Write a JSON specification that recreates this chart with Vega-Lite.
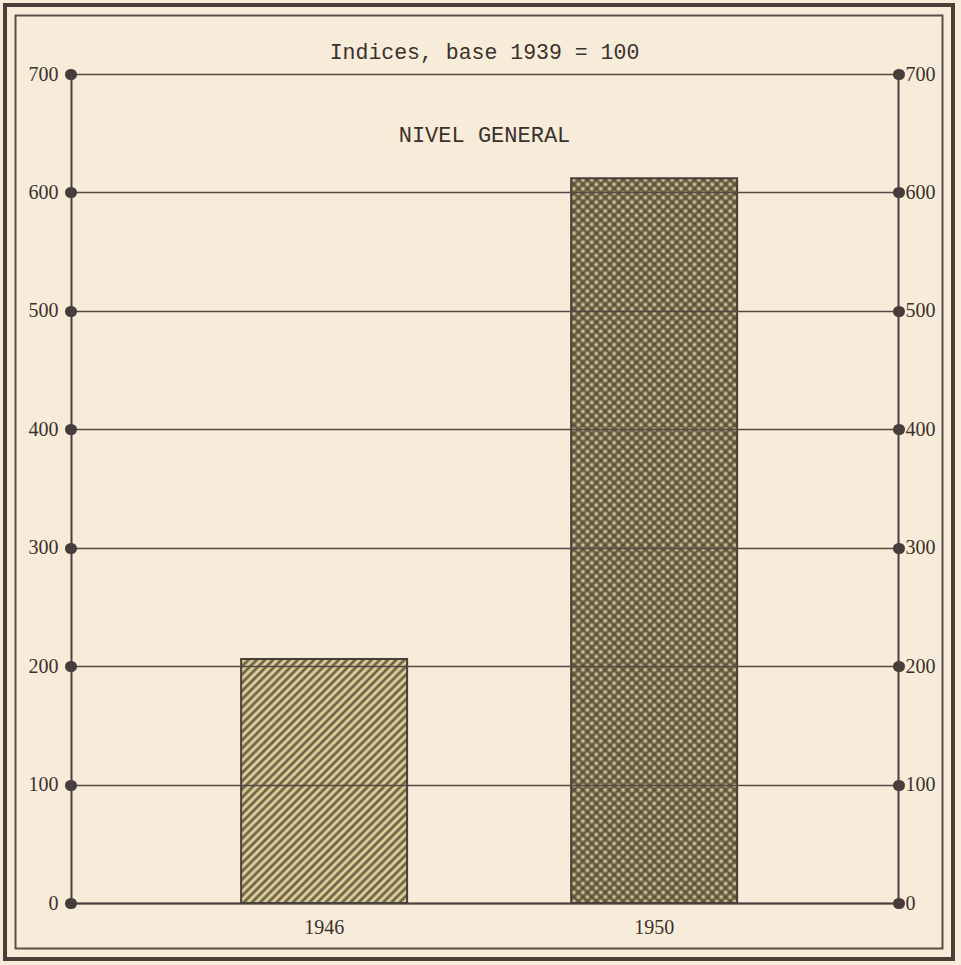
{
"$schema": "https://vega.github.io/schema/vega-lite/v6.json",
"width": 944,
"height": 950,
"autosize": {"type": "none"},
"padding": {"left": 7, "top": 7, "right": 10, "bottom": 8},
"background": "#f7ebd9",
"config": {"view": {"stroke": "#4a3f38", "strokeWidth": 8, "fill": null}},
"title": {"text": "Indices, base 1939 = 100", "subtitle": "NIVEL GENERAL", "orient": "top", "anchor": "middle", "frame": "group", "offset": -139, "dx": 5.5, "font": "Liberation Mono", "fontSize": 21.5, "fontWeight": "normal", "color": "#3a312c", "subtitleFont": "Liberation Mono", "subtitleFontSize": 22, "subtitleColor": "#3a312c", "subtitlePadding": 62},
"data": {"values": [{"year": "1946", "index": 206}, {"year": "1950", "index": 612}]},
"resolve": {"scale": {"y": "shared"}, "axis": {"y": "independent"}},
"layer": [
{"transform": [{"filter": {"field": "year", "equal": "1946"}}],
 "mark": {"type": "rect", "clip": true, "fill": "transparent", "stroke": "#5a4e48", "strokeWidth": 19},
 "encoding": {}},
{"transform": [{"filter": {"field": "year", "equal": "1946"}}],
 "mark": {"type": "rect", "clip": true, "fill": "transparent", "stroke": "#f7ebd9", "strokeWidth": 15},
 "encoding": {}},
{"transform": [{"filter": {"field": "year", "equal": "1946"}}],
 "mark": {"type": "bar", "stroke": "#4a3f38", "strokeWidth": 2, "fill": {"gradient": "linear", "x1": 0, "y1": 0, "x2": 0.781, "y2": 1.149, "stops": [
{"offset":0,"color":"#5c503e"},{"offset":0.01,"color":"#f2e5a3"},{"offset":0.02,"color":"#5c503e"},{"offset":0.03,"color":"#f2e5a3"},{"offset":0.04,"color":"#5c503e"},{"offset":0.05,"color":"#f2e5a3"},{"offset":0.06,"color":"#5c503e"},{"offset":0.07,"color":"#f2e5a3"},{"offset":0.08,"color":"#5c503e"},{"offset":0.09,"color":"#f2e5a3"},
{"offset":0.1,"color":"#5c503e"},{"offset":0.11,"color":"#f2e5a3"},{"offset":0.12,"color":"#5c503e"},{"offset":0.13,"color":"#f2e5a3"},{"offset":0.14,"color":"#5c503e"},{"offset":0.15,"color":"#f2e5a3"},{"offset":0.16,"color":"#5c503e"},{"offset":0.17,"color":"#f2e5a3"},{"offset":0.18,"color":"#5c503e"},{"offset":0.19,"color":"#f2e5a3"},
{"offset":0.2,"color":"#5c503e"},{"offset":0.21,"color":"#f2e5a3"},{"offset":0.22,"color":"#5c503e"},{"offset":0.23,"color":"#f2e5a3"},{"offset":0.24,"color":"#5c503e"},{"offset":0.25,"color":"#f2e5a3"},{"offset":0.26,"color":"#5c503e"},{"offset":0.27,"color":"#f2e5a3"},{"offset":0.28,"color":"#5c503e"},{"offset":0.29,"color":"#f2e5a3"},
{"offset":0.3,"color":"#5c503e"},{"offset":0.31,"color":"#f2e5a3"},{"offset":0.32,"color":"#5c503e"},{"offset":0.33,"color":"#f2e5a3"},{"offset":0.34,"color":"#5c503e"},{"offset":0.35,"color":"#f2e5a3"},{"offset":0.36,"color":"#5c503e"},{"offset":0.37,"color":"#f2e5a3"},{"offset":0.38,"color":"#5c503e"},{"offset":0.39,"color":"#f2e5a3"},
{"offset":0.4,"color":"#5c503e"},{"offset":0.41,"color":"#f2e5a3"},{"offset":0.42,"color":"#5c503e"},{"offset":0.43,"color":"#f2e5a3"},{"offset":0.44,"color":"#5c503e"},{"offset":0.45,"color":"#f2e5a3"},{"offset":0.46,"color":"#5c503e"},{"offset":0.47,"color":"#f2e5a3"},{"offset":0.48,"color":"#5c503e"},{"offset":0.49,"color":"#f2e5a3"},
{"offset":0.5,"color":"#5c503e"},{"offset":0.51,"color":"#f2e5a3"},{"offset":0.52,"color":"#5c503e"},{"offset":0.53,"color":"#f2e5a3"},{"offset":0.54,"color":"#5c503e"},{"offset":0.55,"color":"#f2e5a3"},{"offset":0.56,"color":"#5c503e"},{"offset":0.57,"color":"#f2e5a3"},{"offset":0.58,"color":"#5c503e"},{"offset":0.59,"color":"#f2e5a3"},
{"offset":0.6,"color":"#5c503e"},{"offset":0.61,"color":"#f2e5a3"},{"offset":0.62,"color":"#5c503e"},{"offset":0.63,"color":"#f2e5a3"},{"offset":0.64,"color":"#5c503e"},{"offset":0.65,"color":"#f2e5a3"},{"offset":0.66,"color":"#5c503e"},{"offset":0.67,"color":"#f2e5a3"},{"offset":0.68,"color":"#5c503e"},{"offset":0.69,"color":"#f2e5a3"},
{"offset":0.7,"color":"#5c503e"},{"offset":0.71,"color":"#f2e5a3"},{"offset":0.72,"color":"#5c503e"},{"offset":0.73,"color":"#f2e5a3"},{"offset":0.74,"color":"#5c503e"},{"offset":0.75,"color":"#f2e5a3"},{"offset":0.76,"color":"#5c503e"},{"offset":0.77,"color":"#f2e5a3"},{"offset":0.78,"color":"#5c503e"},{"offset":0.79,"color":"#f2e5a3"},
{"offset":0.8,"color":"#5c503e"},{"offset":0.81,"color":"#f2e5a3"},{"offset":0.82,"color":"#5c503e"},{"offset":0.83,"color":"#f2e5a3"},{"offset":0.84,"color":"#5c503e"},{"offset":0.85,"color":"#f2e5a3"},{"offset":0.86,"color":"#5c503e"},{"offset":0.87,"color":"#f2e5a3"},{"offset":0.88,"color":"#5c503e"},{"offset":0.89,"color":"#f2e5a3"},
{"offset":0.9,"color":"#5c503e"},{"offset":0.91,"color":"#f2e5a3"},{"offset":0.92,"color":"#5c503e"},{"offset":0.93,"color":"#f2e5a3"},{"offset":0.94,"color":"#5c503e"},{"offset":0.95,"color":"#f2e5a3"},{"offset":0.96,"color":"#5c503e"},{"offset":0.97,"color":"#f2e5a3"},{"offset":0.98,"color":"#5c503e"},{"offset":0.99,"color":"#f2e5a3"},
{"offset":1,"color":"#5c503e"}]}},
 "encoding": {
  "x": {"field": "year", "type": "nominal", "scale": {"domain": ["1946", "1950"], "range": [64, 891], "paddingInner": 0.497, "paddingOuter": 0.5015, "align": 0.514},
        "axis": {"orient": "bottom", "offset": -54, "title": null, "labelAngle": 0, "ticks": false, "tickSize": 0, "domain": true, "domainColor": "#4a4040", "domainWidth": 2, "labelFont": "Liberation Serif", "labelFontSize": 20, "labelColor": "#3a312c", "labelPadding": 14, "zindex": 1}},
  "y": {"field": "index", "type": "quantitative", "scale": {"domain": [0, 700], "range": [896, 67], "nice": false, "zero": true},
        "axis": {"orient": "left", "offset": -64, "title": null, "values": [0, 100, 200, 300, 400, 500, 600, 700], "grid": true, "gridColor": "#544a44", "gridWidth": 1.7, "gridOpacity": 1, "domain": true, "domainColor": "#4a4040", "domainWidth": 2, "ticks": true, "tickColor": "#463c3a", "tickWidth": 11, "tickSize": 1, "tickCap": "round", "labelFont": "Liberation Serif", "labelFontSize": 20, "labelColor": "#3a312c", "labelPadding": 12, "zindex": 1}}
 }},
{"transform": [{"filter": {"field": "year", "equal": "1950"}}],
 "mark": {"type": "bar", "fill": "#f1e6aa", "strokeWidth": 0},
 "encoding": {
  "x": {"field": "year", "type": "nominal", "scale": {"domain": ["1946", "1950"], "range": [64, 891], "paddingInner": 0.497, "paddingOuter": 0.5015, "align": 0.514},
        "axis": {"orient": "bottom", "offset": -54, "title": null, "labelAngle": 0, "ticks": false, "tickSize": 0, "domain": true, "domainColor": "#4a4040", "domainWidth": 2, "labelFont": "Liberation Serif", "labelFontSize": 20, "labelColor": "#3a312c", "labelPadding": 14, "zindex": 1}},
  "y": {"field": "index", "type": "quantitative", "scale": {"domain": [0, 700], "range": [896, 67], "nice": false, "zero": true},
        "axis": {"orient": "right", "offset": -53, "title": null, "values": [0, 100, 200, 300, 400, 500, 600, 700], "grid": false, "domain": true, "domainColor": "#4a4040", "domainWidth": 2, "ticks": true, "tickColor": "#463c3a", "tickWidth": 11, "tickSize": 1, "tickCap": "round", "labelFont": "Liberation Serif", "labelFontSize": 20, "labelColor": "#3a312c", "labelPadding": 6, "zindex": 1}}
 }},
{"transform": [{"filter": {"field": "year", "equal": "1950"}}],
 "mark": {"type": "bar", "strokeWidth": 0, "fill": {"gradient": "linear", "x1": 0, "y1": 1, "x2": 0.267, "y2": -0.168, "stops": [
{"offset":0,"color":"#544836e6"},{"offset":0.005,"color":"#54483600"},{"offset":0.01,"color":"#544836e6"},{"offset":0.015,"color":"#54483600"},{"offset":0.02,"color":"#544836e6"},{"offset":0.025,"color":"#54483600"},{"offset":0.03,"color":"#544836e6"},{"offset":0.035,"color":"#54483600"},{"offset":0.04,"color":"#544836e6"},{"offset":0.045,"color":"#54483600"},{"offset":0.05,"color":"#544836e6"},{"offset":0.055,"color":"#54483600"},{"offset":0.06,"color":"#544836e6"},{"offset":0.065,"color":"#54483600"},{"offset":0.07,"color":"#544836e6"},{"offset":0.075,"color":"#54483600"},{"offset":0.08,"color":"#544836e6"},{"offset":0.085,"color":"#54483600"},{"offset":0.09,"color":"#544836e6"},{"offset":0.095,"color":"#54483600"},
{"offset":0.1,"color":"#544836e6"},{"offset":0.105,"color":"#54483600"},{"offset":0.11,"color":"#544836e6"},{"offset":0.115,"color":"#54483600"},{"offset":0.12,"color":"#544836e6"},{"offset":0.125,"color":"#54483600"},{"offset":0.13,"color":"#544836e6"},{"offset":0.135,"color":"#54483600"},{"offset":0.14,"color":"#544836e6"},{"offset":0.145,"color":"#54483600"},{"offset":0.15,"color":"#544836e6"},{"offset":0.155,"color":"#54483600"},{"offset":0.16,"color":"#544836e6"},{"offset":0.165,"color":"#54483600"},{"offset":0.17,"color":"#544836e6"},{"offset":0.175,"color":"#54483600"},{"offset":0.18,"color":"#544836e6"},{"offset":0.185,"color":"#54483600"},{"offset":0.19,"color":"#544836e6"},{"offset":0.195,"color":"#54483600"},
{"offset":0.2,"color":"#544836e6"},{"offset":0.205,"color":"#54483600"},{"offset":0.21,"color":"#544836e6"},{"offset":0.215,"color":"#54483600"},{"offset":0.22,"color":"#544836e6"},{"offset":0.225,"color":"#54483600"},{"offset":0.23,"color":"#544836e6"},{"offset":0.235,"color":"#54483600"},{"offset":0.24,"color":"#544836e6"},{"offset":0.245,"color":"#54483600"},{"offset":0.25,"color":"#544836e6"},{"offset":0.255,"color":"#54483600"},{"offset":0.26,"color":"#544836e6"},{"offset":0.265,"color":"#54483600"},{"offset":0.27,"color":"#544836e6"},{"offset":0.275,"color":"#54483600"},{"offset":0.28,"color":"#544836e6"},{"offset":0.285,"color":"#54483600"},{"offset":0.29,"color":"#544836e6"},{"offset":0.295,"color":"#54483600"},
{"offset":0.3,"color":"#544836e6"},{"offset":0.305,"color":"#54483600"},{"offset":0.31,"color":"#544836e6"},{"offset":0.315,"color":"#54483600"},{"offset":0.32,"color":"#544836e6"},{"offset":0.325,"color":"#54483600"},{"offset":0.33,"color":"#544836e6"},{"offset":0.335,"color":"#54483600"},{"offset":0.34,"color":"#544836e6"},{"offset":0.345,"color":"#54483600"},{"offset":0.35,"color":"#544836e6"},{"offset":0.355,"color":"#54483600"},{"offset":0.36,"color":"#544836e6"},{"offset":0.365,"color":"#54483600"},{"offset":0.37,"color":"#544836e6"},{"offset":0.375,"color":"#54483600"},{"offset":0.38,"color":"#544836e6"},{"offset":0.385,"color":"#54483600"},{"offset":0.39,"color":"#544836e6"},{"offset":0.395,"color":"#54483600"},
{"offset":0.4,"color":"#544836e6"},{"offset":0.405,"color":"#54483600"},{"offset":0.41,"color":"#544836e6"},{"offset":0.415,"color":"#54483600"},{"offset":0.42,"color":"#544836e6"},{"offset":0.425,"color":"#54483600"},{"offset":0.43,"color":"#544836e6"},{"offset":0.435,"color":"#54483600"},{"offset":0.44,"color":"#544836e6"},{"offset":0.445,"color":"#54483600"},{"offset":0.45,"color":"#544836e6"},{"offset":0.455,"color":"#54483600"},{"offset":0.46,"color":"#544836e6"},{"offset":0.465,"color":"#54483600"},{"offset":0.47,"color":"#544836e6"},{"offset":0.475,"color":"#54483600"},{"offset":0.48,"color":"#544836e6"},{"offset":0.485,"color":"#54483600"},{"offset":0.49,"color":"#544836e6"},{"offset":0.495,"color":"#54483600"},
{"offset":0.5,"color":"#544836e6"},{"offset":0.505,"color":"#54483600"},{"offset":0.51,"color":"#544836e6"},{"offset":0.515,"color":"#54483600"},{"offset":0.52,"color":"#544836e6"},{"offset":0.525,"color":"#54483600"},{"offset":0.53,"color":"#544836e6"},{"offset":0.535,"color":"#54483600"},{"offset":0.54,"color":"#544836e6"},{"offset":0.545,"color":"#54483600"},{"offset":0.55,"color":"#544836e6"},{"offset":0.555,"color":"#54483600"},{"offset":0.56,"color":"#544836e6"},{"offset":0.565,"color":"#54483600"},{"offset":0.57,"color":"#544836e6"},{"offset":0.575,"color":"#54483600"},{"offset":0.58,"color":"#544836e6"},{"offset":0.585,"color":"#54483600"},{"offset":0.59,"color":"#544836e6"},{"offset":0.595,"color":"#54483600"},
{"offset":0.6,"color":"#544836e6"},{"offset":0.605,"color":"#54483600"},{"offset":0.61,"color":"#544836e6"},{"offset":0.615,"color":"#54483600"},{"offset":0.62,"color":"#544836e6"},{"offset":0.625,"color":"#54483600"},{"offset":0.63,"color":"#544836e6"},{"offset":0.635,"color":"#54483600"},{"offset":0.64,"color":"#544836e6"},{"offset":0.645,"color":"#54483600"},{"offset":0.65,"color":"#544836e6"},{"offset":0.655,"color":"#54483600"},{"offset":0.66,"color":"#544836e6"},{"offset":0.665,"color":"#54483600"},{"offset":0.67,"color":"#544836e6"},{"offset":0.675,"color":"#54483600"},{"offset":0.68,"color":"#544836e6"},{"offset":0.685,"color":"#54483600"},{"offset":0.69,"color":"#544836e6"},{"offset":0.695,"color":"#54483600"},
{"offset":0.7,"color":"#544836e6"},{"offset":0.705,"color":"#54483600"},{"offset":0.71,"color":"#544836e6"},{"offset":0.715,"color":"#54483600"},{"offset":0.72,"color":"#544836e6"},{"offset":0.725,"color":"#54483600"},{"offset":0.73,"color":"#544836e6"},{"offset":0.735,"color":"#54483600"},{"offset":0.74,"color":"#544836e6"},{"offset":0.745,"color":"#54483600"},{"offset":0.75,"color":"#544836e6"},{"offset":0.755,"color":"#54483600"},{"offset":0.76,"color":"#544836e6"},{"offset":0.765,"color":"#54483600"},{"offset":0.77,"color":"#544836e6"},{"offset":0.775,"color":"#54483600"},{"offset":0.78,"color":"#544836e6"},{"offset":0.785,"color":"#54483600"},{"offset":0.79,"color":"#544836e6"},{"offset":0.795,"color":"#54483600"},
{"offset":0.8,"color":"#544836e6"},{"offset":0.805,"color":"#54483600"},{"offset":0.81,"color":"#544836e6"},{"offset":0.815,"color":"#54483600"},{"offset":0.82,"color":"#544836e6"},{"offset":0.825,"color":"#54483600"},{"offset":0.83,"color":"#544836e6"},{"offset":0.835,"color":"#54483600"},{"offset":0.84,"color":"#544836e6"},{"offset":0.845,"color":"#54483600"},{"offset":0.85,"color":"#544836e6"},{"offset":0.855,"color":"#54483600"},{"offset":0.86,"color":"#544836e6"},{"offset":0.865,"color":"#54483600"},{"offset":0.87,"color":"#544836e6"},{"offset":0.875,"color":"#54483600"},{"offset":0.88,"color":"#544836e6"},{"offset":0.885,"color":"#54483600"},{"offset":0.89,"color":"#544836e6"},{"offset":0.895,"color":"#54483600"},
{"offset":0.9,"color":"#544836e6"},{"offset":0.905,"color":"#54483600"},{"offset":0.91,"color":"#544836e6"},{"offset":0.915,"color":"#54483600"},{"offset":0.92,"color":"#544836e6"},{"offset":0.925,"color":"#54483600"},{"offset":0.93,"color":"#544836e6"},{"offset":0.935,"color":"#54483600"},{"offset":0.94,"color":"#544836e6"},{"offset":0.945,"color":"#54483600"},{"offset":0.95,"color":"#544836e6"},{"offset":0.955,"color":"#54483600"},{"offset":0.96,"color":"#544836e6"},{"offset":0.965,"color":"#54483600"},{"offset":0.97,"color":"#544836e6"},{"offset":0.975,"color":"#54483600"},{"offset":0.98,"color":"#544836e6"},{"offset":0.985,"color":"#54483600"},{"offset":0.99,"color":"#544836e6"},{"offset":0.995,"color":"#54483600"},
{"offset":1,"color":"#544836e6"}]}},
 "encoding": {
  "x": {"field": "year", "type": "nominal", "scale": {"domain": ["1946", "1950"], "range": [64, 891], "paddingInner": 0.497, "paddingOuter": 0.5015, "align": 0.514},
        "axis": {"orient": "bottom", "offset": -54, "title": null, "labelAngle": 0, "ticks": false, "tickSize": 0, "domain": true, "domainColor": "#4a4040", "domainWidth": 2, "labelFont": "Liberation Serif", "labelFontSize": 20, "labelColor": "#3a312c", "labelPadding": 14, "zindex": 1}},
  "y": {"field": "index", "type": "quantitative", "scale": {"domain": [0, 700], "range": [896, 67], "nice": false, "zero": true}, "axis": null}
 }},
{"transform": [{"filter": {"field": "year", "equal": "1950"}}],
 "mark": {"type": "bar", "stroke": "#4a3f38", "strokeWidth": 2, "fill": {"gradient": "linear", "x1": 0, "y1": 0, "x2": 0.267, "y2": 1.168, "stops": [
{"offset":0,"color":"#544836e6"},{"offset":0.005,"color":"#54483600"},{"offset":0.01,"color":"#544836e6"},{"offset":0.015,"color":"#54483600"},{"offset":0.02,"color":"#544836e6"},{"offset":0.025,"color":"#54483600"},{"offset":0.03,"color":"#544836e6"},{"offset":0.035,"color":"#54483600"},{"offset":0.04,"color":"#544836e6"},{"offset":0.045,"color":"#54483600"},{"offset":0.05,"color":"#544836e6"},{"offset":0.055,"color":"#54483600"},{"offset":0.06,"color":"#544836e6"},{"offset":0.065,"color":"#54483600"},{"offset":0.07,"color":"#544836e6"},{"offset":0.075,"color":"#54483600"},{"offset":0.08,"color":"#544836e6"},{"offset":0.085,"color":"#54483600"},{"offset":0.09,"color":"#544836e6"},{"offset":0.095,"color":"#54483600"},
{"offset":0.1,"color":"#544836e6"},{"offset":0.105,"color":"#54483600"},{"offset":0.11,"color":"#544836e6"},{"offset":0.115,"color":"#54483600"},{"offset":0.12,"color":"#544836e6"},{"offset":0.125,"color":"#54483600"},{"offset":0.13,"color":"#544836e6"},{"offset":0.135,"color":"#54483600"},{"offset":0.14,"color":"#544836e6"},{"offset":0.145,"color":"#54483600"},{"offset":0.15,"color":"#544836e6"},{"offset":0.155,"color":"#54483600"},{"offset":0.16,"color":"#544836e6"},{"offset":0.165,"color":"#54483600"},{"offset":0.17,"color":"#544836e6"},{"offset":0.175,"color":"#54483600"},{"offset":0.18,"color":"#544836e6"},{"offset":0.185,"color":"#54483600"},{"offset":0.19,"color":"#544836e6"},{"offset":0.195,"color":"#54483600"},
{"offset":0.2,"color":"#544836e6"},{"offset":0.205,"color":"#54483600"},{"offset":0.21,"color":"#544836e6"},{"offset":0.215,"color":"#54483600"},{"offset":0.22,"color":"#544836e6"},{"offset":0.225,"color":"#54483600"},{"offset":0.23,"color":"#544836e6"},{"offset":0.235,"color":"#54483600"},{"offset":0.24,"color":"#544836e6"},{"offset":0.245,"color":"#54483600"},{"offset":0.25,"color":"#544836e6"},{"offset":0.255,"color":"#54483600"},{"offset":0.26,"color":"#544836e6"},{"offset":0.265,"color":"#54483600"},{"offset":0.27,"color":"#544836e6"},{"offset":0.275,"color":"#54483600"},{"offset":0.28,"color":"#544836e6"},{"offset":0.285,"color":"#54483600"},{"offset":0.29,"color":"#544836e6"},{"offset":0.295,"color":"#54483600"},
{"offset":0.3,"color":"#544836e6"},{"offset":0.305,"color":"#54483600"},{"offset":0.31,"color":"#544836e6"},{"offset":0.315,"color":"#54483600"},{"offset":0.32,"color":"#544836e6"},{"offset":0.325,"color":"#54483600"},{"offset":0.33,"color":"#544836e6"},{"offset":0.335,"color":"#54483600"},{"offset":0.34,"color":"#544836e6"},{"offset":0.345,"color":"#54483600"},{"offset":0.35,"color":"#544836e6"},{"offset":0.355,"color":"#54483600"},{"offset":0.36,"color":"#544836e6"},{"offset":0.365,"color":"#54483600"},{"offset":0.37,"color":"#544836e6"},{"offset":0.375,"color":"#54483600"},{"offset":0.38,"color":"#544836e6"},{"offset":0.385,"color":"#54483600"},{"offset":0.39,"color":"#544836e6"},{"offset":0.395,"color":"#54483600"},
{"offset":0.4,"color":"#544836e6"},{"offset":0.405,"color":"#54483600"},{"offset":0.41,"color":"#544836e6"},{"offset":0.415,"color":"#54483600"},{"offset":0.42,"color":"#544836e6"},{"offset":0.425,"color":"#54483600"},{"offset":0.43,"color":"#544836e6"},{"offset":0.435,"color":"#54483600"},{"offset":0.44,"color":"#544836e6"},{"offset":0.445,"color":"#54483600"},{"offset":0.45,"color":"#544836e6"},{"offset":0.455,"color":"#54483600"},{"offset":0.46,"color":"#544836e6"},{"offset":0.465,"color":"#54483600"},{"offset":0.47,"color":"#544836e6"},{"offset":0.475,"color":"#54483600"},{"offset":0.48,"color":"#544836e6"},{"offset":0.485,"color":"#54483600"},{"offset":0.49,"color":"#544836e6"},{"offset":0.495,"color":"#54483600"},
{"offset":0.5,"color":"#544836e6"},{"offset":0.505,"color":"#54483600"},{"offset":0.51,"color":"#544836e6"},{"offset":0.515,"color":"#54483600"},{"offset":0.52,"color":"#544836e6"},{"offset":0.525,"color":"#54483600"},{"offset":0.53,"color":"#544836e6"},{"offset":0.535,"color":"#54483600"},{"offset":0.54,"color":"#544836e6"},{"offset":0.545,"color":"#54483600"},{"offset":0.55,"color":"#544836e6"},{"offset":0.555,"color":"#54483600"},{"offset":0.56,"color":"#544836e6"},{"offset":0.565,"color":"#54483600"},{"offset":0.57,"color":"#544836e6"},{"offset":0.575,"color":"#54483600"},{"offset":0.58,"color":"#544836e6"},{"offset":0.585,"color":"#54483600"},{"offset":0.59,"color":"#544836e6"},{"offset":0.595,"color":"#54483600"},
{"offset":0.6,"color":"#544836e6"},{"offset":0.605,"color":"#54483600"},{"offset":0.61,"color":"#544836e6"},{"offset":0.615,"color":"#54483600"},{"offset":0.62,"color":"#544836e6"},{"offset":0.625,"color":"#54483600"},{"offset":0.63,"color":"#544836e6"},{"offset":0.635,"color":"#54483600"},{"offset":0.64,"color":"#544836e6"},{"offset":0.645,"color":"#54483600"},{"offset":0.65,"color":"#544836e6"},{"offset":0.655,"color":"#54483600"},{"offset":0.66,"color":"#544836e6"},{"offset":0.665,"color":"#54483600"},{"offset":0.67,"color":"#544836e6"},{"offset":0.675,"color":"#54483600"},{"offset":0.68,"color":"#544836e6"},{"offset":0.685,"color":"#54483600"},{"offset":0.69,"color":"#544836e6"},{"offset":0.695,"color":"#54483600"},
{"offset":0.7,"color":"#544836e6"},{"offset":0.705,"color":"#54483600"},{"offset":0.71,"color":"#544836e6"},{"offset":0.715,"color":"#54483600"},{"offset":0.72,"color":"#544836e6"},{"offset":0.725,"color":"#54483600"},{"offset":0.73,"color":"#544836e6"},{"offset":0.735,"color":"#54483600"},{"offset":0.74,"color":"#544836e6"},{"offset":0.745,"color":"#54483600"},{"offset":0.75,"color":"#544836e6"},{"offset":0.755,"color":"#54483600"},{"offset":0.76,"color":"#544836e6"},{"offset":0.765,"color":"#54483600"},{"offset":0.77,"color":"#544836e6"},{"offset":0.775,"color":"#54483600"},{"offset":0.78,"color":"#544836e6"},{"offset":0.785,"color":"#54483600"},{"offset":0.79,"color":"#544836e6"},{"offset":0.795,"color":"#54483600"},
{"offset":0.8,"color":"#544836e6"},{"offset":0.805,"color":"#54483600"},{"offset":0.81,"color":"#544836e6"},{"offset":0.815,"color":"#54483600"},{"offset":0.82,"color":"#544836e6"},{"offset":0.825,"color":"#54483600"},{"offset":0.83,"color":"#544836e6"},{"offset":0.835,"color":"#54483600"},{"offset":0.84,"color":"#544836e6"},{"offset":0.845,"color":"#54483600"},{"offset":0.85,"color":"#544836e6"},{"offset":0.855,"color":"#54483600"},{"offset":0.86,"color":"#544836e6"},{"offset":0.865,"color":"#54483600"},{"offset":0.87,"color":"#544836e6"},{"offset":0.875,"color":"#54483600"},{"offset":0.88,"color":"#544836e6"},{"offset":0.885,"color":"#54483600"},{"offset":0.89,"color":"#544836e6"},{"offset":0.895,"color":"#54483600"},
{"offset":0.9,"color":"#544836e6"},{"offset":0.905,"color":"#54483600"},{"offset":0.91,"color":"#544836e6"},{"offset":0.915,"color":"#54483600"},{"offset":0.92,"color":"#544836e6"},{"offset":0.925,"color":"#54483600"},{"offset":0.93,"color":"#544836e6"},{"offset":0.935,"color":"#54483600"},{"offset":0.94,"color":"#544836e6"},{"offset":0.945,"color":"#54483600"},{"offset":0.95,"color":"#544836e6"},{"offset":0.955,"color":"#54483600"},{"offset":0.96,"color":"#544836e6"},{"offset":0.965,"color":"#54483600"},{"offset":0.97,"color":"#544836e6"},{"offset":0.975,"color":"#54483600"},{"offset":0.98,"color":"#544836e6"},{"offset":0.985,"color":"#54483600"},{"offset":0.99,"color":"#544836e6"},{"offset":0.995,"color":"#54483600"},
{"offset":1,"color":"#544836e6"}]}},
 "encoding": {
  "x": {"field": "year", "type": "nominal", "scale": {"domain": ["1946", "1950"], "range": [64, 891], "paddingInner": 0.497, "paddingOuter": 0.5015, "align": 0.514},
        "axis": {"orient": "bottom", "offset": -54, "title": null, "labelAngle": 0, "ticks": false, "tickSize": 0, "domain": true, "domainColor": "#4a4040", "domainWidth": 2, "labelFont": "Liberation Serif", "labelFontSize": 20, "labelColor": "#3a312c", "labelPadding": 14, "zindex": 1}},
  "y": {"field": "index", "type": "quantitative", "scale": {"domain": [0, 700], "range": [896, 67], "nice": false, "zero": true}, "axis": null}
 }}
]
}
